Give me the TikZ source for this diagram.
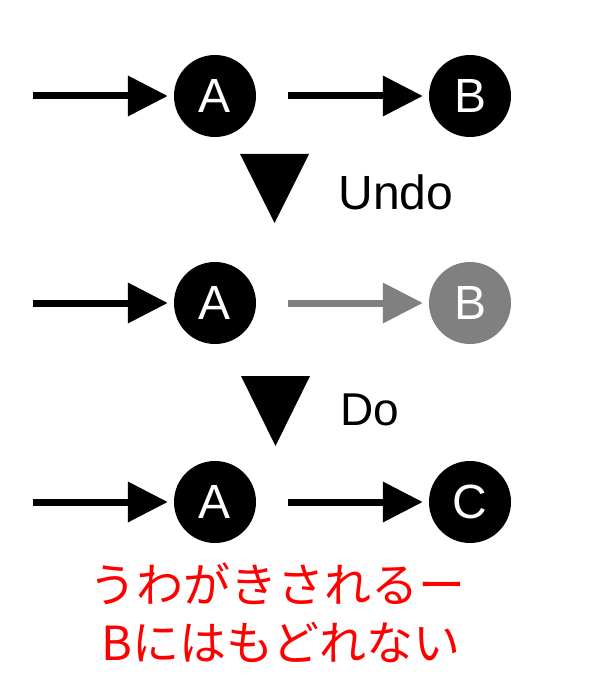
\documentclass[tikz,border=0pt]{standalone}
\usepackage{fontspec}
\setmainfont{Liberation Sans}
\newfontfamily\cjk{Noto Sans CJK JP}
\usetikzlibrary{arrows.meta}
\definecolor{fadegray}{RGB}{128,128,128}
\definecolor{notered}{RGB}{255,0,0}
\tikzset{
    % black arrow into a state
    blackarrow/.style={
        line width=7pt,
        black,
        -{Triangle[length=40pt, width=39pt]},
        shorten >=6pt
    },
    % the undone arrow, in gray
    grayarrow/.style={
        blackarrow,
        fadegray
    },
    statenode/.style={
        circle,
        fill=black,
        text=white,
        minimum size=82pt,
        inner sep=0pt,
        font=\fontsize{48}{48}\selectfont
    },
    steplabel/.style={
        anchor=base west,
        font=\fontsize{48}{48}\selectfont
    }
}

\begin{document}
\begin{tikzpicture}[x=1pt,y=-1pt]
    \useasboundingbox (0,0) rectangle (590,700);

    % row 1
    \coordinate (in1) at (33,96);
    \node[statenode] (a1) at (215,96) {A};
    \node[statenode] (b1) at (470,96) {B};
    \draw[blackarrow] (in1) -- (a1);
    \draw[blackarrow, shorten <=32pt] (a1) -- (b1);

    % Undo
    \fill (240,154) -- (309,154) -- (274.5,223) -- cycle;
    \node[steplabel] (undo) at (335,210) {Undo};

    % row 2
    \coordinate (in2) at (33,303);
    \node[statenode] (a2) at (215,303) {A};
    \node[statenode, fill=fadegray] (b2) at (470,303) {B};
    \draw[blackarrow] (in2) -- (a2);
    \draw[grayarrow, shorten <=32pt] (a2) -- (b2);

    % Do
    \fill (241,376) -- (310,376) -- (275.5,446) -- cycle;
    \node[steplabel, font=\fontsize{46}{46}\selectfont] (do) at (337,425) {Do};

    % row 3
    \coordinate (in3) at (33,502);
    \node[statenode] (a3) at (215,502) {A};
    \node[statenode] (c3) at (470,502) {C};
    \draw[blackarrow] (in3) -- (a3);
    \draw[blackarrow, shorten <=32pt] (a3) -- (c3);

    % note
    \node[anchor=base, text=notered, font=\cjk\fontsize{47}{47}\selectfont] (note1) at (277.5,602) {うわがきされるー};
    \node[anchor=base, text=notered, font=\cjk\fontsize{47}{47}\selectfont] (note2) at (281,660) {Bにはもどれない};
\end{tikzpicture}
\end{document}
